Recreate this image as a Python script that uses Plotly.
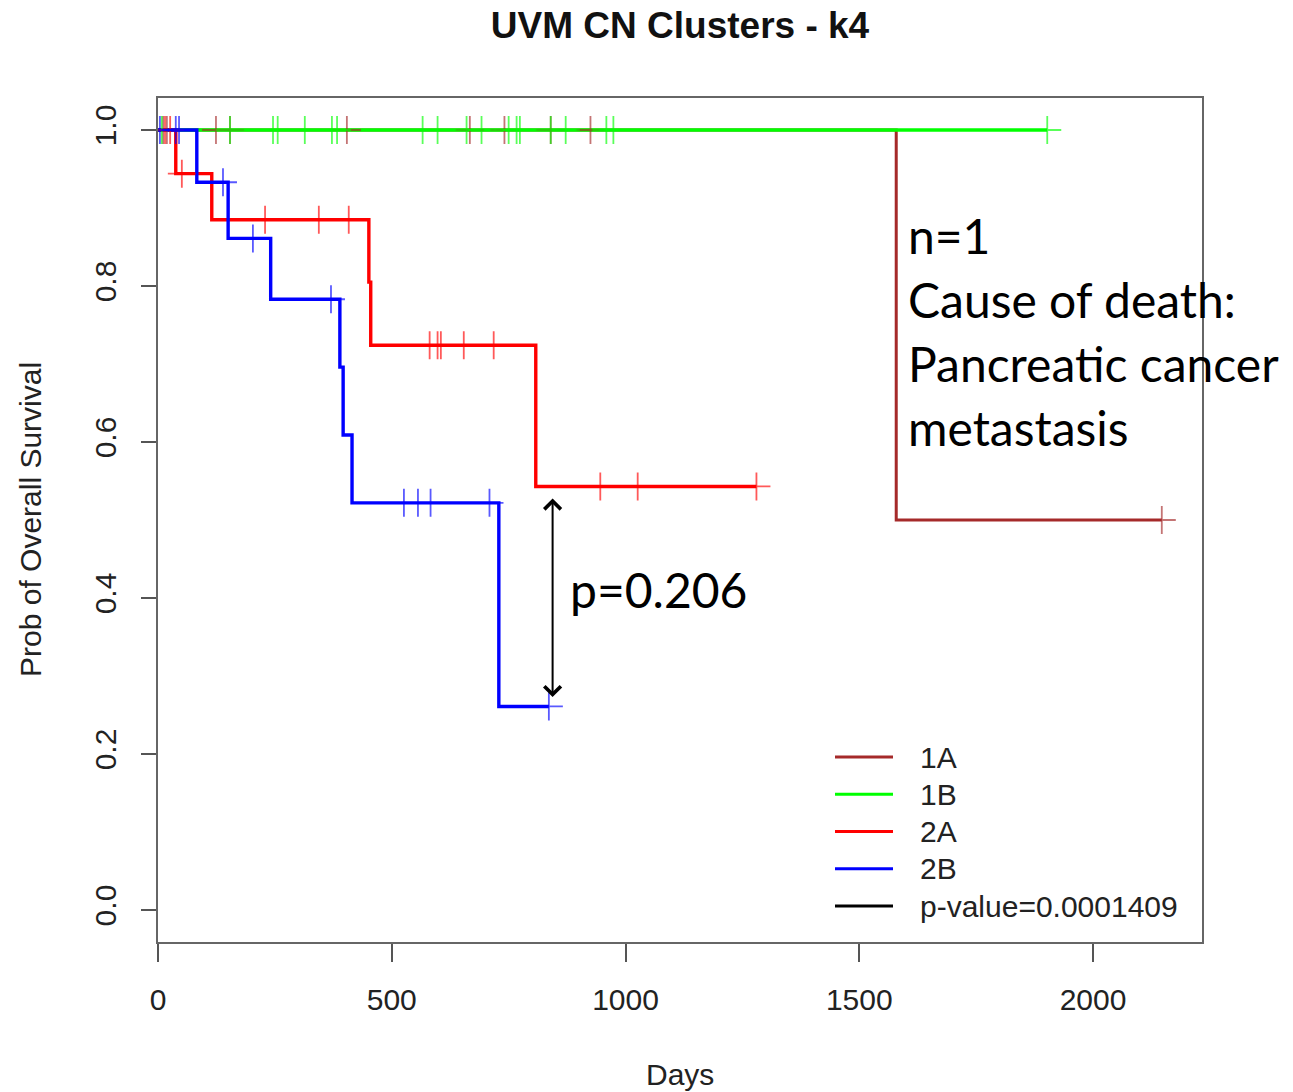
import plotly.graph_objects as go

# ---------------- data ----------------
groups = ["1A", "1B", "2A", "2B"]
group_colors = ["#A52A2A", "#00FF00", "#FF0000", "#0000FF"]

# Kaplan-Meier step curves (time in days, survival probability)
km_1A_time = [0, 1579, 2147]
km_1A_surv = [1.0, 0.5, 0.5]
km_1B_time = [0, 1902]
km_1B_surv = [1.0, 1.0]
km_2A_time = [0, 38, 115, 451, 455, 808, 1280]
km_2A_surv = [1.0, 0.944, 0.885, 0.805, 0.724, 0.543, 0.543]
km_2B_time = [0, 83, 150, 241, 389, 396, 415, 729, 836]
km_2B_surv = [1.0, 0.933, 0.861, 0.783, 0.696, 0.609, 0.522, 0.261, 0.261]

# censoring times
cens_1A_time = [11, 19, 124, 154, 404, 667, 741, 840, 925, 2147]
cens_1B_time = [8, 154, 246, 256, 314, 372, 383, 566, 598, 660, 692, 750,
                767, 774, 840, 872, 959, 974, 1902]
cens_2A_time = [15, 26, 51, 229, 344, 408, 581, 598, 605, 654, 718, 946,
                1026, 1280]
cens_2B_time = [4, 38, 45, 139, 203, 370, 526, 556, 583, 709, 836]

x_ticks = [0, 500, 1000, 1500, 2000]
y_ticks = [0.0, 0.2, 0.4, 0.6, 0.8, 1.0]

title_text = "UVM CN Clusters - k4"
x_title = "Days"
y_title = "Prob of Overall Survival"
legend_labels = ["1A", "1B", "2A", "2B", "p-value=0.0001409"]
legend_colors = group_colors + ["#000000"]

note_lines = ["n=1", "Cause of death:", "Pancreatic cancer", "metastasis"]
note_day = 1600
note_surv = [0.865, 0.783, 0.700, 0.619]
pnote_text = "p=0.206"
pnote_day = 878
pnote_surv = 0.411
arrow_day = 844
arrow_top = 0.5295
arrow_bottom = 0.273

km_time = [km_1A_time, km_1B_time, km_2A_time, km_2B_time]
km_surv = [km_1A_surv, km_1B_surv, km_2A_surv, km_2B_surv]
cens_time = [cens_1A_time, cens_1B_time, cens_2A_time, cens_2B_time]
line_widths = [3, 3.6, 3.4, 3.4]


def surv_at(t, times, survs):
    s = survs[0]
    for tt, ss in zip(times, survs):
        if tt <= t:
            s = ss
    return s


def rgba(hexc, a):
    h = hexc.lstrip("#")
    r, g, b = int(h[0:2], 16), int(h[2:4], 16), int(h[4:6], 16)
    return f"rgba({r},{g},{b},{a})"


R_FONT = "Liberation Sans, Arial, sans-serif"
NOTE_FONT = "Lato, Carlito, Calibri, sans-serif"

fig = go.Figure()
for i, g in enumerate(groups):
    fig.add_trace(go.Scatter(
        x=km_time[i], y=km_surv[i], mode="lines", line_shape="hv",
        line=dict(color=group_colors[i], width=line_widths[i]), name=g,
        showlegend=False, hoverinfo="skip"))
for i, g in enumerate(groups):
    ys = [surv_at(t, km_time[i], km_surv[i]) for t in cens_time[i]]
    fig.add_trace(go.Scatter(
        x=cens_time[i], y=ys, mode="markers", showlegend=False,
        marker=dict(symbol="cross-thin", size=20,
                    line=dict(color=rgba(group_colors[i], 0.65), width=1.8)),
        hoverinfo="skip"))

# plot area in pixels
L, R, T, B = 158, 1202, 98, 942
W, H = 1293, 1092
PW, PH = R - L, B - T


def px_x(px):
    return (px - L) / PW


def px_y(py):
    return (B - py) / PH


shapes = []
annotations = []
# manual R-style legend
for i, lab in enumerate(legend_labels):
    yy = px_y(757 + 37.25 * i)
    shapes.append(dict(type="line", xref="paper", yref="paper",
                       x0=px_x(835), x1=px_x(893), y0=yy, y1=yy,
                       line=dict(color=legend_colors[i], width=3)))
    annotations.append(dict(xref="paper", yref="paper", x=px_x(918), y=yy,
                            text=lab, showarrow=False, xanchor="left",
                            yanchor="middle",
                            font=dict(family=R_FONT, size=30, color="#222")))

# note text
for line, yv in zip(note_lines, note_surv):
    annotations.append(dict(xref="x", yref="y", x=note_day, y=yv, text=line,
                            showarrow=False, xanchor="left", yanchor="middle",
                            font=dict(family=NOTE_FONT, size=48, color="black")))
annotations.append(dict(xref="x", yref="y", x=pnote_day, y=pnote_surv,
                        text=pnote_text, showarrow=False, xanchor="left",
                        yanchor="middle",
                        font=dict(family=NOTE_FONT, size=48, color="black")))
# double-headed arrow
annotations.append(dict(xref="x", yref="y", x=arrow_day, y=arrow_bottom,
                        axref="x", ayref="y", ax=arrow_day, ay=arrow_top,
                        text="", showarrow=True, arrowside="end+start",
                        arrowhead=4, startarrowhead=4, arrowsize=1.6,
                        startarrowsize=1.6, arrowwidth=2, arrowcolor="black"))
# axis titles
annotations.append(dict(xref="paper", yref="paper", x=0.5, y=px_y(1074),
                        text=x_title, showarrow=False, xanchor="center",
                        yanchor="middle",
                        font=dict(family=R_FONT, size=30, color="#222")))
annotations.append(dict(xref="paper", yref="paper", x=px_x(30), y=0.5,
                        text=y_title, showarrow=False, textangle=-90,
                        xanchor="center", yanchor="middle",
                        font=dict(family=R_FONT, size=30, color="#222")))

fig.update_layout(
    width=W, height=H,
    margin=dict(l=L, r=W - R, t=T, b=H - B, pad=0),
    paper_bgcolor="white", plot_bgcolor="white",
    title=dict(text="<b>" + title_text + "</b>", x=0.5, xref="paper",
               y=1 - 25 / H, yref="container", xanchor="center",
               yanchor="middle",
               font=dict(family=R_FONT, size=37, color="#111")),
    shapes=shapes, annotations=annotations, showlegend=False,
)
fig.update_xaxes(range=[0, 2233], tickvals=x_ticks,
                 ticktext=[str(v) for v in x_ticks],
                 ticks="outside", ticklen=18, tickwidth=1.5, tickcolor="#555",
                 showline=True, mirror=True, linecolor="#666", linewidth=1.5,
                 showgrid=False, zeroline=False, ticklabelstandoff=12,
                 tickfont=dict(family=R_FONT, size=30, color="#222"))
fig.update_yaxes(range=[-0.041, 1.041], tickvals=y_ticks,
                 ticktext=[f"{v:.1f}" for v in y_ticks], tickangle=-90,
                 ticks="outside", ticklen=15, tickwidth=1.5, tickcolor="#555",
                 showline=True, mirror=True, linecolor="#666", linewidth=1.5,
                 showgrid=False, zeroline=False, ticklabelstandoff=13,
                 tickfont=dict(family=R_FONT, size=30, color="#222"))

fig.write_html("out.html")
